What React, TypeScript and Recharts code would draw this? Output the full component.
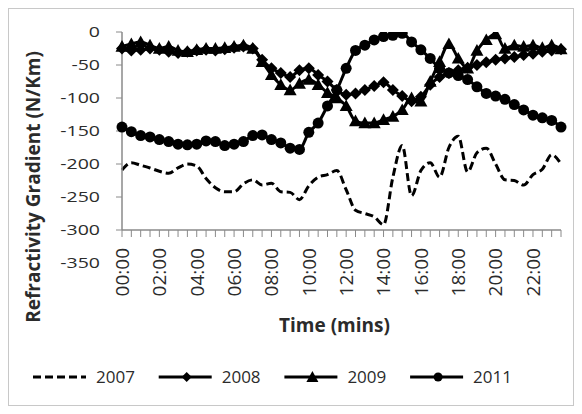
import React from "react";
import { LineChart, Line, XAxis, YAxis } from "recharts";

const categories = [
  "00:00","00:30","01:00","01:30","02:00","02:30","03:00","03:30",
  "04:00","04:30","05:00","05:30","06:00","06:30","07:00","07:30",
  "08:00","08:30","09:00","09:30","10:00","10:30","11:00","11:30",
  "12:00","12:30","13:00","13:30","14:00","14:30","15:00","15:30",
  "16:00","16:30","17:00","17:30","18:00","18:30","19:00","19:30",
  "20:00","20:30","21:00","21:30","22:00","22:30","23:00","23:30",
];

const s2007 = [
  -209,-198,-202,-206,-211,-214,-206,-200,-203,-222,-236,-242,-242,-230,-224,-232,
  -229,-242,-243,-254,-233,-220,-216,-210,-239,-270,-275,-280,-292,-220,-172,-248,
  -210,-198,-220,-175,-158,-212,-183,-176,-200,-224,-225,-232,-216,-208,-186,-200,
];
const s2008 = [
  -25,-28,-27,-25,-27,-30,-32,-30,-28,-27,-28,-26,-24,-22,-25,-42,
  -55,-62,-68,-58,-55,-65,-75,-88,-95,-93,-88,-82,-76,-88,-97,-105,
  -98,-80,-68,-62,-58,-54,-50,-46,-42,-40,-38,-35,-33,-30,-28,-26,
];
const s2009 = [
  -22,-18,-15,-20,-25,-22,-28,-30,-27,-25,-25,-24,-22,-20,-25,-45,
  -65,-80,-88,-78,-72,-80,-92,-100,-112,-135,-138,-138,-133,-128,-118,-100,
  -105,-75,-45,-18,-40,-55,-28,-12,-3,-25,-20,-22,-20,-24,-20,-26,
];
const s2011 = [
  -144,-151,-157,-159,-163,-166,-170,-171,-170,-165,-166,-172,-170,-166,-157,-156,
  -163,-168,-176,-178,-152,-138,-112,-88,-55,-28,-20,-12,-7,-5,-2,-15,
  -27,-40,-55,-62,-66,-72,-83,-93,-97,-102,-110,-118,-126,-130,-134,-144,
];

const seriesNames = ["2007", "2008", "2009", "2011"];
const yTicks = [0, -50, -100, -150, -200, -250, -300];
const extraYTick = -350;
const xTitle = "Time (mins)";
const yTitle = "Refractivity Gradient (N/Km)";

const data = categories.map((t, i) => ({
  time: t,
  s2007: s2007[i],
  s2008: s2008[i],
  s2009: s2009[i],
  s2011: s2011[i],
}));

const FONT = "'Open Sans', sans-serif";
const TXT = "#2b2b2b";
const AXIS = "#8a8a8a";

const YTick = (props: any) => {
  const { y, payload } = props;
  const step = 33;
  const label = (val: number, yy: number) => (
    <text
      transform={`translate(91,${yy}) scale(1.3,1)`}
      x={0}
      y={0}
      dy="0.36em"
      textAnchor="end"
      fontFamily={FONT}
      fontSize={15}
      fill={TXT}
    >
      {val}
    </text>
  );
  return (
    <g>
      {label(payload.value, y)}
      {payload.value === -300 ? label(extraYTick, y + step) : null}
    </g>
  );
};

const XTick = (props: any) => {
  const { x, y, payload, index } = props;
  if (index % 4 !== 0) return null;
  const ay = y + 9;
  return (
    <text
      transform={`rotate(-90, ${x}, ${ay})`}
      x={x}
      y={ay}
      dy="0.36em"
      textAnchor="end"
      fontFamily={FONT}
      fontSize={19}
      fill={TXT}
    >
      {payload.value}
    </text>
  );
};

const YTitle = () => (
  <text
    transform="rotate(-90, 24, 178)"
    x={24}
    y={178}
    dy="0.36em"
    textAnchor="middle"
    fontFamily={FONT}
    fontSize={19}
    fontWeight={700}
    fill={TXT}
  >
    {yTitle}
  </text>
);

const XTitle = (props: any) => {
  const vb = props.viewBox || {};
  const cx = (vb.x || 0) + (vb.width || 0) / 2 - 7;
  return (
    <text
      x={cx}
      y={316}
      dy="0.36em"
      textAnchor="middle"
      fontFamily={FONT}
      fontSize={19}
      fontWeight={700}
      fill={TXT}
    >
      {xTitle}
    </text>
  );
};

const diamond = (props: any) => {
  const { cx, cy, index } = props;
  if (cx == null || cy == null) return <g key={index} />;
  const r = 6;
  return (
    <path
      key={index}
      d={`M${cx},${cy - r}L${cx + r},${cy}L${cx},${cy + r}L${cx - r},${cy}Z`}
      fill="#000"
    />
  );
};

const triangle = (props: any) => {
  const { cx, cy, index } = props;
  if (cx == null || cy == null) return <g key={index} />;
  const r = 6.5;
  return (
    <path
      key={index}
      d={`M${cx},${cy - r}L${cx + r},${cy + r * 0.8}L${cx - r},${cy + r * 0.8}Z`}
      fill="#000"
    />
  );
};

const circle = (props: any) => {
  const { cx, cy, index } = props;
  if (cx == null || cy == null) return <g key={index} />;
  return <circle key={index} cx={cx} cy={cy} r={5.5} fill="#000" />;
};

const LegendMarker = ({ kind, x, y }: { kind: number; x: number; y: number }) => {
  if (kind === 1) return <path d={`M${x},${y - 5}L${x + 5},${y}L${x},${y + 5}L${x - 5},${y}Z`} fill="#000" />;
  if (kind === 2) return <path d={`M${x},${y - 6}L${x + 6},${y + 5}L${x - 6},${y + 5}Z`} fill="#000" />;
  if (kind === 3) return <circle cx={x} cy={y} r={4.5} fill="#000" />;
  return null;
};

const Legend2 = () => (
  <svg
    width={564}
    height={50}
    style={{ position: "absolute", left: 0, top: 350 }}
  >
    {seriesNames.map((name, i) => {
      const x0 = 24 + i * 125.7;
      const y = 18;
      return (
        <g key={name}>
          <line
            x1={x0}
            y1={y}
            x2={x0 + 53}
            y2={y}
            stroke="#000"
            strokeWidth={3}
            strokeDasharray={i === 0 ? "8 4" : undefined}
          />
          <LegendMarker kind={i} x={x0 + 28} y={y} />
          <text
            x={x0 + 63}
            y={y}
            dy="0.36em"
            fontFamily={FONT}
            fontSize={17}
            fill={TXT}
          >
            {name}
          </text>
        </g>
      );
    })}
  </svg>
);

export default function App() {
  return (
    <div
      style={{
        position: "relative",
        width: 566,
        height: 398,
        border: "1px solid #c8c8c8",
        boxSizing: "border-box",
        background: "#fff",
      }}
    >
      <LineChart
        width={564}
        height={396}
        data={data}
        margin={{ top: 23, right: 12, left: 0, bottom: 75 }}
      >
        <XAxis
          dataKey="time"
          interval={0}
          height={100}
          tick={<XTick />}
          tickSize={7}
          tickLine={{ stroke: AXIS, strokeWidth: 1 }}
          axisLine={{ stroke: AXIS, strokeWidth: 1.5 }}
          label={<XTitle />}
        />
        <YAxis
          width={113}
          domain={[-300, 0]}
          ticks={yTicks}
          allowDataOverflow
          tick={<YTick />}
          tickSize={6}
          tickLine={{ stroke: AXIS, strokeWidth: 1 }}
          axisLine={{ stroke: AXIS, strokeWidth: 1.5 }}
          label={<YTitle />}
        />
        <Line
          dataKey="s2007"
          type="monotone"
          stroke="#000"
          strokeWidth={3}
          strokeDasharray="8 4"
          dot={false}
          isAnimationActive={false}
        />
        <Line
          dataKey="s2008"
          type="monotone"
          stroke="#000"
          strokeWidth={3}
          dot={diamond}
          isAnimationActive={false}
        />
        <Line
          dataKey="s2009"
          type="monotone"
          stroke="#000"
          strokeWidth={3}
          dot={triangle}
          isAnimationActive={false}
        />
        <Line
          dataKey="s2011"
          type="monotone"
          stroke="#000"
          strokeWidth={3}
          dot={circle}
          isAnimationActive={false}
        />
      </LineChart>
      <Legend2 />
    </div>
  );
}
